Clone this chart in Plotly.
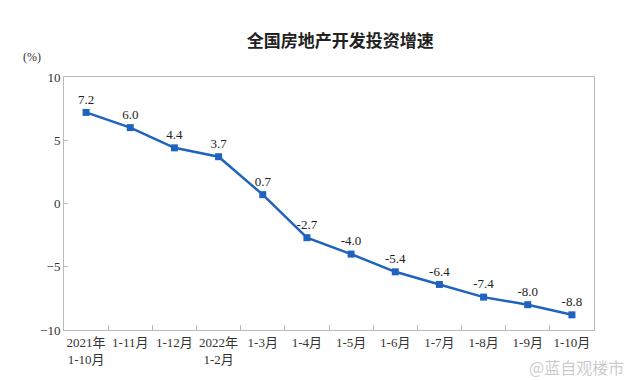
import plotly.graph_objects as go

categories = ["2021年<br>1-10月", "1-11月", "1-12月", "2022年<br>1-2月", "1-3月", "1-4月",
              "1-5月", "1-6月", "1-7月", "1-8月", "1-9月", "1-10月"]
growth = [7.2, 6.0, 4.4, 3.7, 0.7, -2.7, -4.0, -5.4, -6.4, -7.4, -8.0, -8.8]
y_ticks = [-10, -5, 0, 5, 10]

font_fam = "Liberation Serif, Noto Sans CJK SC"
blue = "#1f63bf"

fig = go.Figure()
fig.add_trace(go.Scatter(
    x=categories, y=growth, mode="lines+markers+text",
    line=dict(color=blue, width=2.5),
    marker=dict(symbol="square", size=7, color=blue),
    text=[f"{v:.1f}" for v in growth], textposition="top center",
    textfont=dict(family=font_fam, size=13, color="#222222"),
    cliponaxis=False, showlegend=False,
))

fig.update_layout(
    width=640, height=380,
    margin=dict(l=56, r=54, t=69, b=58, autoexpand=False),
    paper_bgcolor="white", plot_bgcolor="white",
    title=dict(text="<b>全国房地产开发投资增速</b>", x=0.519, xanchor="center", y=0.913, yanchor="middle",
               font=dict(family="Noto Sans CJK SC", size=17, color="#222222")),
    font=dict(family=font_fam, size=12, color="#333333"),
)
fig.update_xaxes(
    type="category", showline=True, linecolor="#bbbbbb", linewidth=1, mirror=True,
    ticks="inside", tickson="boundaries", ticklen=5, tickcolor="#bbbbbb",
    showgrid=False, tickangle=0, automargin=False,
    tickfont=dict(family=font_fam, size=13, color="#333333"),
    range=[-0.5, len(categories) - 0.5],
)
fig.update_yaxes(
    range=[-10, 10], tickvals=y_ticks, showline=True, linecolor="#bbbbbb", linewidth=1, mirror=True,
    ticks="inside", ticklen=4, tickcolor="#bbbbbb", showgrid=False, zeroline=False, automargin=False,
    tickfont=dict(family=font_fam, size=13, color="#333333"),
)
fig.add_annotation(text="(%)", xref="paper", yref="paper", x=-0.06, y=1.08, xanchor="center",
                   yanchor="middle", showarrow=False, font=dict(family=font_fam, size=12, color="#333333"))
fig.add_annotation(text="@蓝自观楼市", xref="paper", yref="paper", x=1.06, y=-0.145, xanchor="right",
                   yanchor="middle", showarrow=False,
                   font=dict(family="Noto Sans CJK SC", size=16, color="rgba(150,150,150,0.5)"))

fig.write_html("out.html")
